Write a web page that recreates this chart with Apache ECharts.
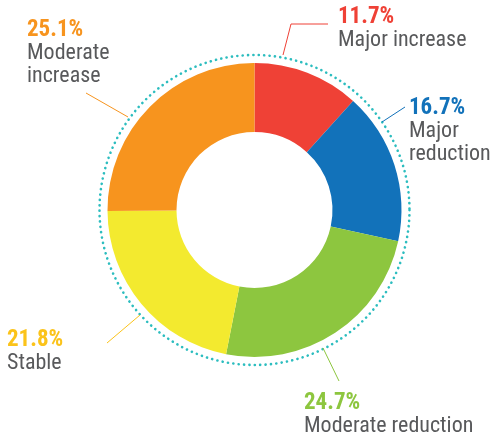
<!DOCTYPE html>
<html>
<head>
<meta charset="utf-8">
<style>
  html, body { margin: 0; padding: 0; background: #ffffff; }
  #chart { width: 493px; height: 441px; }
</style>
<script src="https://cdn.jsdelivr.net/npm/echarts@6/dist/echarts.min.js"></script>
</head>
<body>
<div id="chart"></div>
<script>
// Share of responses, clockwise from 12 o'clock
const categories = ['Major increase', 'Major reduction', 'Moderate reduction', 'Stable', 'Moderate increase'];
const shares = [11.7, 16.7, 24.7, 21.8, 25.1];

const sliceColors = ['#EF4136', '#1272BA', '#8DC63F', '#F3EA2F', '#F7941E'];
const labelColors = ['#EF4136', '#1272BA', '#8DC63F', '#FBC31A', '#F7941E'];

// Label block placement (top-left corner) and leader-line polylines
const labelPos = [[338, 6], [409, 97], [304, 392], [7, 329], [27, 19]];
const leaderLines = [
  [[283, 55], [291, 24], [328, 24]],
  [[382, 122], [405, 107]],
  [[323, 348], [339, 381]],
  [[140, 315], [107, 343]],
  [[128, 117], [86, 93]]
];

const CX = 254.5, CY = 210;
const FONT = '"Liberation Sans Narrow", "Roboto Condensed", Roboto, sans-serif';

const chart = echarts.init(document.getElementById('chart'), null, { renderer: 'canvas' });

const rich = {
  name: { fontFamily: FONT, fontSize: 22, color: '#58595B', lineHeight: 23 }
};
labelColors.forEach((c, i) => {
  rich['p' + i] = { fontFamily: FONT, fontSize: 23, fontWeight: 'bold', color: c, lineHeight: 23 };
});

const data = categories.map((name, i) => ({
  name: name,
  value: shares[i],
  itemStyle: { color: sliceColors[i] },
  labelLine: { lineStyle: { color: labelColors[i], width: 1 } }
}));

chart.setOption({
  animation: false,
  backgroundColor: '#ffffff',
  graphic: [{
    type: 'circle',
    shape: { cx: CX, cy: CY, r: 155 },
    style: { fill: 'none', stroke: '#2CBDBF', lineWidth: 2.6, lineDash: [0.1, 5.3], lineCap: 'round' },
    z: 0,
    silent: true
  }],
  series: [{
    type: 'pie',
    center: [CX, CY],
    radius: [78, 147],
    startAngle: 90,
    clockwise: true,
    avoidLabelOverlap: false,
    emphasis: { disabled: true },
    itemStyle: { borderWidth: 0 },
    label: {
      show: true,
      position: 'outside',
      formatter: function (p) {
        let nameText = p.name;
        // two-word names stack onto two lines in the side blocks
        if (p.dataIndex === 1 || p.dataIndex === 4) nameText = p.name.split(' ').join('\n');
        const nameLines = nameText.split('\n').map(s => '{name|' + s + '}').join('\n');
        return '{p' + p.dataIndex + '|' + p.value.toFixed(1) + '%}\n' + nameLines;
      },
      rich: rich,
      align: 'left'
    },
    labelLine: { show: true, length: 10, length2: 10 },
    labelLayout: function (params) {
      const i = params.dataIndex;
      return {
        x: labelPos[i][0],
        y: labelPos[i][1],
        align: 'left',
        verticalAlign: 'top',
        labelLinePoints: leaderLines[i]
      };
    },
    data: data
  }]
});
</script>
</body>
</html>
